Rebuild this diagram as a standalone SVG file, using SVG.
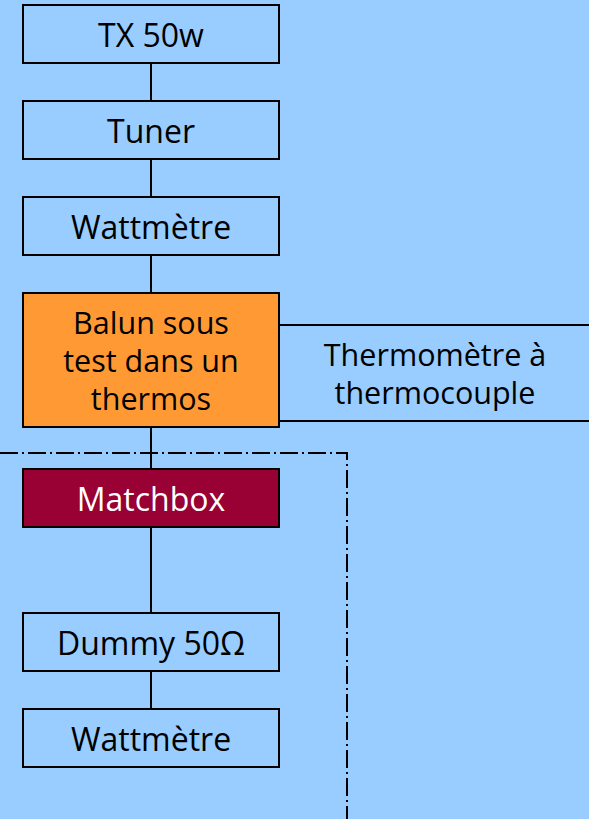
<svg xmlns="http://www.w3.org/2000/svg" width="589" height="819" viewBox="0 0 589 819">
<style>
.box{fill:#99CCFF;stroke:#000;stroke-width:2}
.conn{stroke:#000;stroke-width:2;fill:none}
.dash{stroke:#000;stroke-width:2;fill:none;stroke-dasharray:18 4 2 4}
text{font-family:"Open Sans","DejaVu Sans",sans-serif;font-size:32px;fill:#000;text-anchor:middle}
text.ml{font-size:30.5px}
</style>
<rect x="0" y="0" width="589" height="819" fill="#99CCFF"/>
<g id="connectors">
<line class="conn" x1="151" y1="63" x2="151" y2="101"/>
<line class="conn" x1="151" y1="159" x2="151" y2="197"/>
<line class="conn" x1="151" y1="255" x2="151" y2="293"/>
<line class="conn" x1="151" y1="427" x2="151" y2="469"/>
<line class="conn" x1="151" y1="527" x2="151" y2="613"/>
<line class="conn" x1="151" y1="671" x2="151" y2="709"/>
<polyline class="dash" points="0,453 347,453 347,819"/>
</g>
<g id="thermometre">
<rect class="box" x="279" y="325" width="320" height="96"/>
<text class="ml" x="435" y="366">Thermomètre à</text>
<text class="ml" x="435" y="404">thermocouple</text>
</g>
<g id="tx">
<rect class="box" x="23" y="5" width="256" height="58"/>
<text x="151" y="47">TX 50w</text>
</g>
<g id="tuner">
<rect class="box" x="23" y="101" width="256" height="58"/>
<text x="151" y="143">Tuner</text>
</g>
<g id="wattmetre1">
<rect class="box" x="23" y="197" width="256" height="58"/>
<text x="151" y="239">Wattmètre</text>
</g>
<g id="balun">
<rect class="box" x="23" y="293" width="256" height="134" style="fill:#FF9933"/>
<text class="ml" x="151" y="334">Balun sous</text>
<text class="ml" x="151" y="372">test dans un</text>
<text class="ml" x="151" y="410">thermos</text>
</g>
<g id="matchbox">
<rect class="box" x="23" y="469" width="256" height="58" style="fill:#990033"/>
<text x="151" y="511" style="fill:#fff">Matchbox</text>
</g>
<g id="dummy">
<rect class="box" x="23" y="613" width="256" height="58"/>
<text x="151" y="655">Dummy 50Ω</text>
</g>
<g id="wattmetre2">
<rect class="box" x="23" y="709" width="256" height="58"/>
<text x="151" y="751">Wattmètre</text>
</g>
</svg>
